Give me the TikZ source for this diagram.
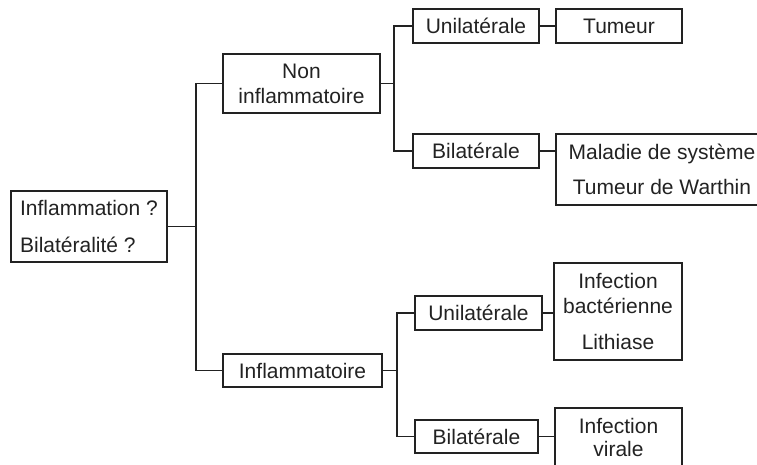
\documentclass[tikz,border=0pt]{standalone}
\usepackage{fontspec}
\setmainfont{Liberation Sans}
\definecolor{ink}{HTML}{222222}
\begin{document}
\begin{tikzpicture}[x=1pt,y=-1pt,
  every node/.style={font=\fontsize{21}{25}\selectfont, text=ink},
  box/.style={draw=ink, line width=1.1pt, rectangle, inner sep=0pt, align=center},
  link/.style={draw=ink, line width=1.1pt}]
\useasboundingbox (0,0) rectangle (757,465);
\clip (0,0) rectangle (757,465);

% first question
\node[box, align=left, minimum width=156pt, minimum height=71pt] (root) at (89,226.5)
  {Inflammation ?\\[12pt]Bilatéralité ?};

% inflammatory or not
\node[box, minimum width=157pt, minimum height=59pt] (ni) at (301.5,83.5) {Non\\inflammatoire};
\node[box, minimum width=159pt, minimum height=33pt] (inf) at (302.5,370.5) {Inflammatoire};

% side
\node[box, minimum width=126pt, minimum height=34pt] (u1) at (476,26) {Unilatérale};
\node[box, minimum width=126pt, minimum height=34pt] (b1) at (476,151) {Bilatérale};
\node[box, minimum width=127pt, minimum height=34pt] (u2) at (478.5,313) {Unilatérale};
\node[box, minimum width=123pt, minimum height=33pt] (b2) at (476.5,436.5) {Bilatérale};

% causes
\node[box, minimum width=126pt, minimum height=34pt] (t1) at (619,26) {Tumeur};
\node[box, minimum width=212pt, minimum height=71pt] (mal) at (662,169.5)
  {Maladie de système\\[10pt]Tumeur de Warthin};
\node[box, minimum width=128pt, minimum height=97pt] (ib) at (618,311.5)
  {Infection\\bactérienne\\[11pt]Lithiase};
\node[box, minimum width=127pt, minimum height=58pt] (iv) at (618.5,437) {Infection\\[-2pt]virale};

% branch rails
\coordinate (s1) at (196,0);
\coordinate (s2) at (394,0);
\coordinate (s3) at (397,0);

\draw[link] (root.east) -- (root.east -| s1);
\draw[link] (ni.west) -- (ni.west -| s1) -- (inf.west -| s1) -- (inf.west);

\draw[link] (ni.east) -- (ni.east -| s2);
\draw[link] (u1.west) -- (u1.west -| s2) -- (b1.west -| s2) -- (b1.west);

\draw[link] (inf.east) -- (inf.east -| s3);
\draw[link] (u2.west) -- (u2.west -| s3) -- (b2.west -| s3) -- (b2.west);

\draw[link] (u1.east) -- (t1.west);
\draw[link] (b1.east) -- (b1.east -| mal.west);
\draw[link] (u2.east) -- (u2.east -| ib.west);
\draw[link] (b2.east) -- (b2.east -| iv.west);
\end{tikzpicture}
\end{document}
